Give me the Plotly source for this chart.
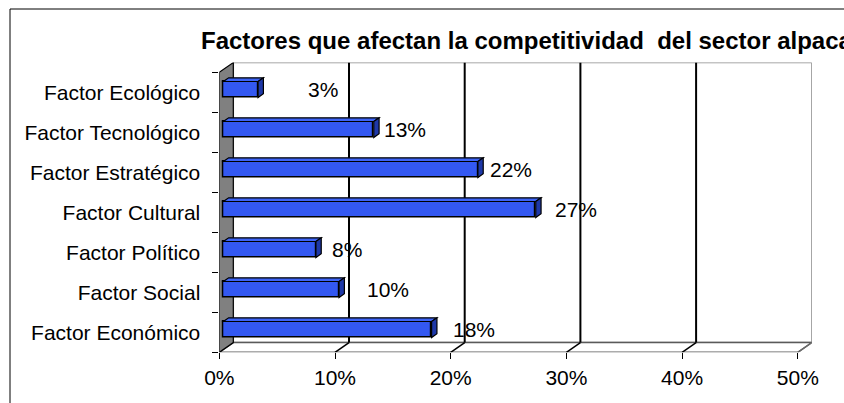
import plotly.graph_objects as go

# ---- data -------------------------------------------------------------
categories = ["Factor Económico", "Factor Social", "Factor Político", "Factor Cultural",
              "Factor Estratégico", "Factor Tecnológico", "Factor Ecológico"]
values = [18, 10, 8, 27, 22, 13, 3]
value_labels = ["18%", "10%", "8%", "27%", "22%", "13%", "3%"]
x_tick_values = [0, 10, 20, 30, 40, 50]
x_tick_labels = ["0%", "10%", "20%", "30%", "40%", "50%"]
title_text = "Factores que afectan la competitividad  del sector alpaca"

# horizontal nudge (px) of each value label from the end of its bar
label_shift_px = [42, 49, 31, 40, 33, 31, 65]

# ---- geometry ---------------------------------------------------------
W, H = 844, 403
FONT = "Liberation Sans, Arial, sans-serif"
X_FRONT0 = 219.3          # px of 0% on the front edge of the floor
PX_PER_PCT = 11.57
PX_PER_CAT = 40.0
Y_FLOOR = 352.3           # px of the front floor edge
DEPTH_X, DEPTH_Y = 14.0, 9.7   # px offset of the back wall
DX = DEPTH_X / PX_PER_PCT
DY = DEPTH_Y / PX_PER_CAT
XMAX = 50
n = len(categories)
idx = list(range(n))

x_range = [0, XMAX + DX]
y_range = [-0.5, n - 0.5 + DY]
x_dom = [X_FRONT0 / W, (X_FRONT0 + (XMAX + DX) * PX_PER_PCT) / W]
y_dom = [(H - Y_FLOOR) / H, (H - Y_FLOOR + (n + DY) * PX_PER_CAT) / H]

BAR_FRONT = 0.29   # depth fraction of the bar front face
BAR_DEPTH = 0.38   # depth fraction taken by the bar
BAR_W = 0.4
BLUE = "#3358F2"
BLUE_TOP = "#3D64F6"
BLUE_SIDE = "#1E38A8"

bx = BAR_FRONT * DX
by = BAR_FRONT * DY
gx = BAR_DEPTH * DX
gy = BAR_DEPTH * DY

fig = go.Figure()

# front faces of the bars
fig.add_trace(go.Bar(
    x=values,
    y=[i + by for i in idx],
    base=bx,
    orientation="h",
    width=BAR_W,
    marker=dict(color=BLUE, line=dict(color="black", width=1.5)),
    hoverinfo="skip",
    showlegend=False,
))

shapes = []

# back wall
shapes.append(dict(type="rect", xref="x", yref="y", layer="below",
                   x0=DX, x1=XMAX + DX, y0=-0.5 + DY, y1=n - 0.5 + DY,
                   fillcolor="white", line=dict(color="#8a8a8a", width=1.5)))
# floor
shapes.append(dict(type="path", xref="x", yref="y", layer="below",
                   path=f"M0,-0.5 L{XMAX},-0.5 L{XMAX + DX},{-0.5 + DY} L{DX},{-0.5 + DY} Z",
                   fillcolor="white", line=dict(color="#5a5a5a", width=1.5)))
# gridlines on the wall and across the floor
for v in x_tick_values[1:]:
    col = "black" if v < XMAX else "#6a6a6a"
    if v < XMAX:
        shapes.append(dict(type="line", xref="x", yref="y", layer="below",
                           x0=v + DX, x1=v + DX, y0=-0.5 + DY, y1=n - 0.5 + DY,
                           line=dict(color="black", width=2)))
    shapes.append(dict(type="line", xref="x", yref="y", layer="below",
                       x0=v, x1=v + DX, y0=-0.5, y1=-0.5 + DY,
                       line=dict(color=col, width=1.5)))
# left wall
shapes.append(dict(type="path", xref="x", yref="y", layer="below",
                   path=f"M0,-0.5 L0,{n - 0.5} L{DX},{n - 0.5 + DY} L{DX},{-0.5 + DY} Z",
                   fillcolor="#808080", line=dict(color="black", width=1.2)))

# top and end faces of the bars
for i, v in zip(idx, values):
    yt = i + by + BAR_W / 2
    yb = i + by - BAR_W / 2
    xe = bx + v
    shapes.append(dict(type="path", xref="x", yref="y", layer="above",
                       path=(f"M{bx},{yt} L{xe},{yt} L{xe + gx},{yt + gy} "
                             f"L{bx + gx},{yt + gy} Z"),
                       fillcolor=BLUE_TOP, line=dict(color="black", width=1.2)))
    shapes.append(dict(type="path", xref="x", yref="y", layer="above",
                       path=(f"M{xe},{yb} L{xe},{yt} L{xe + gx},{yt + gy} "
                             f"L{xe + gx},{yb + gy} Z"),
                       fillcolor=BLUE_SIDE, line=dict(color="black", width=1.2)))

# outer frame of the chart
shapes.append(dict(type="rect", xref="paper", yref="paper",
                   x0=10 / W, x1=1.2, y0=-0.2, y1=(H - 9) / H,
                   line=dict(color="black", width=1), fillcolor="rgba(0,0,0,0)"))

annotations = []
for i, v, lab, sh in zip(idx, values, value_labels, label_shift_px):
    annotations.append(dict(x=bx + v, y=i + by, xref="x", yref="y",
                            text=lab, showarrow=False, xshift=sh,
                            xanchor="center", yanchor="middle",
                            font=dict(family=FONT, size=21, color="black")))
annotations.append(dict(x=199 / W, y=(H - 41) / H, xref="paper", yref="paper",
                        text=f"<b>{title_text}</b>", showarrow=False,
                        xanchor="left", yanchor="middle",
                        font=dict(family=FONT, size=24, color="black")))

fig.update_layout(
    width=W, height=H, autosize=False,
    margin=dict(l=0, r=0, t=0, b=0, autoexpand=False),
    paper_bgcolor="white", plot_bgcolor="rgba(0,0,0,0)",
    font=dict(family=FONT, size=21, color="black"),
    shapes=shapes, annotations=annotations,
    bargap=0,
    xaxis=dict(domain=x_dom, range=x_range, tickmode="array",
               tickvals=x_tick_values, ticktext=x_tick_labels,
               ticks="outside", ticklen=6, tickwidth=1.2, tickcolor="black",
               showgrid=False, zeroline=False, showline=False, automargin=False,
               ticklabelstandoff=0, fixedrange=True),
    yaxis=dict(domain=y_dom, range=y_range, tickmode="array",
               tickvals=idx, ticktext=categories, ticks="",
               showgrid=False, zeroline=False, showline=False, automargin=False,
               ticklabelstandoff=18, fixedrange=True,
               minor=dict(tickmode="array",
                          tickvals=[i - 0.5 for i in range(n + 1)],
                          ticks="outside", ticklen=6, tickwidth=1.2,
                          tickcolor="black", showgrid=False)),
)

fig.write_html("out.html")
